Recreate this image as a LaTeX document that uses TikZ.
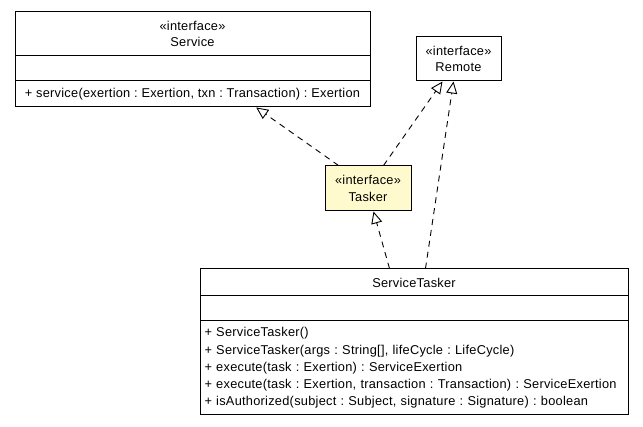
\documentclass[tikz,border=0pt]{standalone}
\usepackage{fontspec}
\setmainfont[LetterSpace=2]{Liberation Sans}
\usetikzlibrary{arrows.meta}
\definecolor{ifacefill}{RGB}{255,250,205}
\frenchspacing

\begin{document}
\begin{tikzpicture}[x=1pt,y=-1pt,
    box/.style={draw,line width=1pt,inner sep=0pt,align=center,
        font=\fontsize{12.8}{16.5}\selectfont},
    realize/.style={line width=0.9pt,dash pattern=on 6pt off 5pt,
        -{Triangle[open,length=12pt,width=11pt,line width=0.9pt]}}]
    \useasboundingbox (0,0) rectangle (643,427);

    % Service
    \node[box,minimum width=355,minimum height=44] (serviceHead) at (192.5,34) {«interface»\\Service};
    \node[box,minimum width=355,minimum height=25] (serviceAttr) at (192.5,68.5) {};
    \node[box,minimum width=355,minimum height=26] (serviceOps) at (192.5,94) {+ service(exertion : Exertion, txn : Transaction) : Exertion};

    % Remote
    \node[box,minimum width=85,minimum height=44] (remote) at (458.5,59) {«interface»\\Remote};

    % Tasker
    \node[box,fill=ifacefill,minimum width=86,minimum height=45] (tasker) at (368,188.5) {«interface»\\Tasker};

    % ServiceTasker
    \node[box,minimum width=428,minimum height=27] (stHead) at (414,282.5) {ServiceTasker};
    \node[box,minimum width=428,minimum height=25] (stAttr) at (414,308.5) {};
    \node[box,minimum width=428,minimum height=94,align=left,text width=419,
        font=\fontsize{12.8}{17.3}\selectfont] (stOps) at (414,368)
        {+ ServiceTasker()\\
         + ServiceTasker(args : String[], lifeCycle : LifeCycle)\\
         + execute(task : Exertion) : ServiceExertion\\
         + execute(task : Exertion, transaction : Transaction) : ServiceExertion\\
         + isAuthorized(subject : Subject, signature : Signature) : boolean};

    \draw[realize] ([xshift=14]tasker.north west) -- ([xshift=241.7]serviceOps.south west);
    \draw[realize] ([xshift=59]tasker.north west) -- ([xshift=27]remote.south west);
    \draw[realize] ([xshift=226]stHead.north west) -- ([xshift=38]remote.south west);
    \draw[realize] ([xshift=190]stHead.north west) -- ([xshift=49]tasker.south west);

\end{tikzpicture}
\end{document}
